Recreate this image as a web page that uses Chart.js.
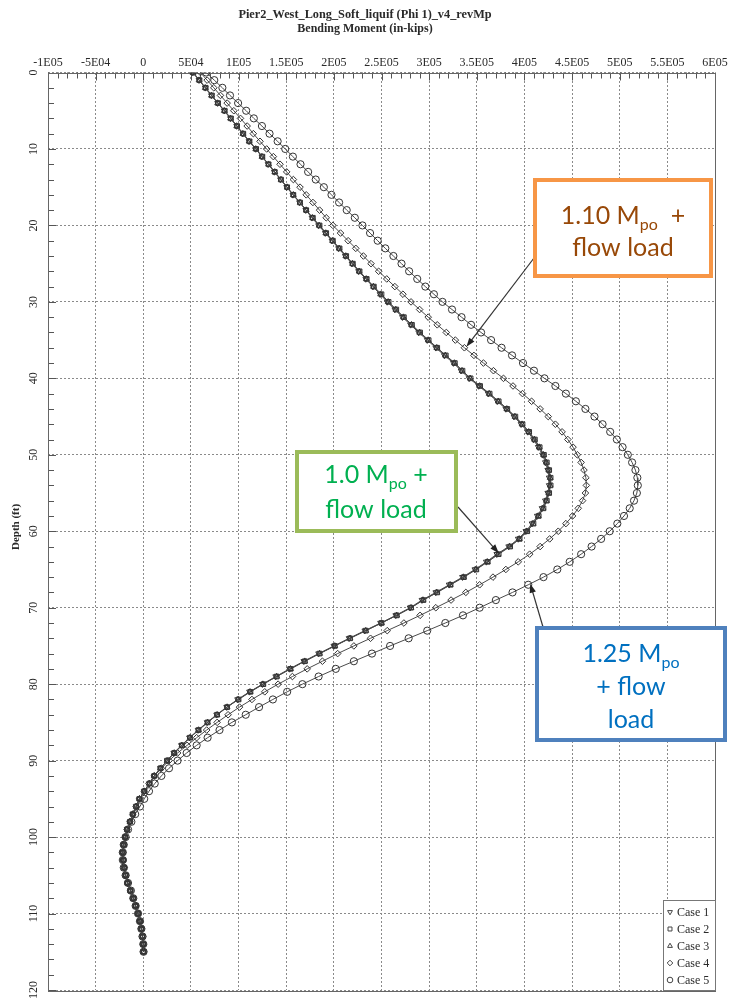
<!DOCTYPE html>
<html>
<head>
<meta charset="utf-8">
<title>Pier2 West Long Soft liquif - Bending Moment</title>
<script src="https://cdn.jsdelivr.net/npm/chart.js@4.4.1/dist/chart.umd.min.js"></script>
<style>
  html, body { margin: 0; padding: 0; background: #ffffff; }
  canvas { display: block; }
</style>
</head>
<body>
<canvas id="moment" width="730" height="1000"></canvas>
<script>
// Depth below pile head (ft), one station per foot
const depthFt = [
  0, 1, 2, 3, 4, 5, 6, 7, 8, 9,
  10, 11, 12, 13, 14, 15, 16, 17, 18, 19,
  20, 21, 22, 23, 24, 25, 26, 27, 28, 29,
  30, 31, 32, 33, 34, 35, 36, 37, 38, 39,
  40, 41, 42, 43, 44, 45, 46, 47, 48, 49,
  50, 51, 52, 53, 54, 55, 56, 57, 58, 59,
  60, 61, 62, 63, 64, 65, 66, 67, 68, 69,
  70, 71, 72, 73, 74, 75, 76, 77, 78, 79,
  80, 81, 82, 83, 84, 85, 86, 87, 88, 89,
  90, 91, 92, 93, 94, 95, 96, 97, 98, 99,
  100, 101, 102, 103, 104, 105, 106, 107, 108, 109,
  110, 111, 112, 113, 114, 115
];

// Bending moment per case, in thousands of in-kips
const case1Moment = [
  52, 58.5, 65, 71.5, 78, 85, 91.5, 98, 104.5, 111,
  118, 124.5, 131, 137.5, 144, 150.5, 157, 164, 170.5, 177,
  184, 191, 198, 205, 212, 219, 226, 233.5, 241, 248.5,
  256, 264, 272, 280.5, 289, 298, 307, 316, 325.5, 333.5,
  342, 352, 362, 371.5, 380.5, 389, 396.5, 403.5, 409.5, 414.5,
  419, 422, 424.5, 426, 426, 424.5, 422, 418.5, 413.5, 408,
  401.5, 393.5, 383.5, 371, 360, 348, 335, 321, 307, 292.5,
  280, 265, 249, 232.5, 216, 200, 184, 168.5, 153.5, 139,
  125, 111.5, 99, 87.5, 77, 67, 57.5, 48.5, 40, 32,
  25, 18, 11.5, 6.5, 1, -4, -7.5, -11, -14, -17,
  -19, -20.5, -21.5, -21, -20, -18.5, -16.5, -13.5, -10.5, -8,
  -5.5, -3.5, -2, -0.8, 0, 0.3
];
const case2Moment = [
  52.5, 59, 65.5, 72, 78.5, 85.5, 92, 98.5, 105, 111.5,
  118.5, 125, 131.5, 138, 144.5, 151, 157.5, 164.5, 171, 178,
  185, 192, 199, 206, 213, 220, 227, 234.5, 242, 250,
  257.5, 265.5, 273.5, 282, 290.5, 299.5, 308.5, 317.5, 327, 335,
  343.5, 353.5, 363.5, 373, 382, 390.5, 398, 405, 411, 416,
  420.5, 423.5, 426, 427.5, 427.5, 426, 423.5, 420, 415, 409.5,
  403, 395, 385, 373, 361.5, 349.5, 336.5, 322.5, 308.5, 294,
  281, 266, 250, 233.5, 217, 201, 185, 169.5, 154.5, 140,
  126, 112.5, 100, 88, 77.5, 67.5, 58, 49, 40.5, 32.5,
  25, 18, 11.5, 6.5, 1, -4, -7.5, -11, -14, -17,
  -19, -20.5, -21.5, -21, -20, -18.5, -16.5, -13.5, -10.5, -8,
  -5.5, -3.5, -2, -0.8, 0, 0.3
];
const case3Moment = [
  52, 58.5, 65, 71.5, 78, 85, 91.5, 98, 104.5, 111,
  118, 124.5, 131.5, 138, 144.5, 151, 157.5, 164.5, 171, 177.5,
  184.5, 191.5, 198.5, 205.5, 212.5, 219.5, 226.5, 234, 241.5, 249,
  257, 265, 273, 281.5, 290, 299, 308, 317, 326.5, 334.5,
  343, 353, 363, 372.5, 381.5, 390, 397.5, 404.5, 410.5, 415.5,
  420, 423, 425.5, 427, 427, 425.5, 423, 419.5, 414.5, 409,
  402.5, 394.5, 384.5, 372, 361, 349, 336, 322, 308, 293.5,
  281, 266, 250, 233.5, 217, 201, 185, 169.5, 154.5, 140,
  125.5, 112, 99.5, 88, 77.5, 67.5, 58, 49, 40.5, 32.5,
  25, 18, 11.5, 6.5, 1, -4, -7.5, -11, -14, -17,
  -19, -20.5, -21.5, -21, -20, -18.5, -16.5, -13.5, -10.5, -8,
  -5.5, -3.5, -2, -0.8, 0, 0.3
];
const case4Moment = [
  60, 67, 74, 81, 88, 95, 102, 109, 115.5, 122.5,
  129.5, 136.5, 143.5, 150.5, 157.5, 164.5, 171, 178, 185, 192,
  199, 207, 215, 223, 231, 239, 247, 255.5, 264, 272.5,
  281, 290, 299, 308.5, 318, 327.5, 337, 347, 357, 367.5,
  378, 388, 398, 407.5, 416.5, 425, 432.5, 439.5, 445.5, 451,
  455.5, 459.5, 462.5, 464.5, 465, 464, 461, 456.5, 450.5, 443.5,
  435.5, 426.5, 416.5, 405.5, 393.5, 380.5, 367, 353, 338.5, 323,
  307, 290.5, 273.5, 256, 238.5, 221, 204, 188, 172, 156.5,
  141.5, 127.5, 114, 101, 89, 77.5, 66.5, 56, 46, 36,
  27, 19, 11.5, 6, 1, -4, -7.5, -11, -14, -17,
  -19, -20.5, -21.5, -21, -20, -18.5, -16.5, -13.5, -10.5, -8,
  -5.5, -3.5, -2, -0.8, 0, 0.3
];
const case5Moment = [
  66, 74.5, 83, 91, 99.5, 108, 116, 124.5, 132.5, 141,
  149, 157, 165, 173, 181, 189.5, 197.5, 205.5, 213.5, 222,
  230, 238, 246, 254, 262.5, 271, 279, 287.5, 296, 305,
  314, 324, 334, 344, 354.5, 365, 376, 387, 398.5, 410,
  421, 432.5, 443.5, 454, 464, 473.5, 482, 490, 497, 503,
  508.5, 513, 516.5, 518.5, 519, 518, 515, 510.5, 504.5, 497.5,
  489.5, 480.5, 470.5, 459.5, 447.5, 434.5, 420, 404, 387.5, 370,
  353, 335.5, 317, 298, 278.5, 259, 240, 221, 202, 184,
  167, 151, 136, 121.5, 107.5, 93, 80, 67.5, 56, 45.5,
  36, 27, 19, 12, 6, 1, -3.5, -8.5, -12.5, -16,
  -18.5, -20.5, -21.5, -21.5, -20.5, -18.5, -16, -13, -10.5, -8,
  -5.5, -3.5, -2, -0.8, 0, 0.3
];

const caseLabels = ['Case 1', 'Case 2', 'Case 3', 'Case 4', 'Case 5'];
const caseMoments = [case1Moment, case2Moment, case3Moment, case4Moment, case5Moment];
const caseMarkers = [
  { style: 'triangle', rotation: 180 },
  { style: 'rect', rotation: 0 },
  { style: 'triangle', rotation: 0 },
  { style: 'rectRot', rotation: 0 },
  { style: 'circle', rotation: 0 }
];

// Axis tick values and their printed labels
const momentTickValues = [-100000, -50000, 0, 50000, 100000, 150000, 200000, 250000, 300000, 350000, 400000, 450000, 500000, 550000, 600000];
const momentTickLabels = ['-1E05', '-5E04', '0', '5E04', '1E05', '1.5E05', '2E05', '2.5E05', '3E05', '3.5E05', '4E05', '4.5E05', '5E05', '5.5E05', '6E05'];
const depthTickValues = [0, 10, 20, 30, 40, 50, 60, 70, 80, 90, 100, 110, 120];
const depthTickLabels = ['0', '10', '20', '30', '40', '50', '60', '70', '80', '90', '100', '110', '120'];

const titleLines = ['Pier2_West_Long_Soft_liquif (Phi 1)_v4_revMp', 'Bending Moment (in-kips)'];
const depthAxisTitle = 'Depth (ft)';

// Call-out boxes: which case and depth each arrow points at
const callouts = [
  { lines: [[['1.10 M', 0], ['po', 1], ['  +', 0]], [['flow load', 0]]],
    border: '#f79646', text: '#984807', box: [535, 180, 176, 96], centerX: 623, baselines: [224, 256],
    from: [534, 258], caseIndex: 3, depth: 36 },
  { lines: [[['1.0 M', 0], ['po', 1], [' +', 0]], [['flow load', 0]]],
    border: '#9bbb59', text: '#00b050', box: [297, 452, 159, 79], centerX: 376, baselines: [483, 518],
    from: [458, 507], caseIndex: 0, depth: 63 },
  { lines: [[['1.25 M', 0], ['po', 1]], [['+ flow', 0]], [['load', 0]]],
    border: '#4f81bd', text: '#0070c0', box: [537, 628, 188, 112], centerX: 631, baselines: [662, 695, 728],
    from: [543, 627], caseIndex: 4, depth: 67 }
];

const SERIF = '"Liberation Serif", "DejaVu Serif", serif';
const SANS = 'Lato, "Open Sans", sans-serif';
const INK = '#2a2a2a';

function pointsFor(values) {
  return depthFt.map((d, i) => ({ x: values[i] * 1000, y: d }));
}

const datasets = caseLabels.map((label, k) => ({
  label,
  data: pointsFor(caseMoments[k]),
  showLine: true,
  borderColor: '#4a4a4a',
  borderWidth: 1,
  pointStyle: caseMarkers[k].style,
  rotation: caseMarkers[k].rotation,
  pointRadius: k === 4 ? 3.6 : 3.3,
  pointBorderWidth: 1,
  pointBorderColor: '#333333',
  pointBackgroundColor: 'rgba(255,255,255,0)',
  tension: 0
}));

function drawArrow(ctx, x0, y0, x1, y1) {
  const ang = Math.atan2(y1 - y0, x1 - x0);
  const len = 9, half = 3.2;
  ctx.save();
  ctx.strokeStyle = '#333';
  ctx.fillStyle = '#222';
  ctx.lineWidth = 1.2;
  ctx.beginPath();
  ctx.moveTo(x0, y0);
  ctx.lineTo(x1 - Math.cos(ang) * len * 0.8, y1 - Math.sin(ang) * len * 0.8);
  ctx.stroke();
  ctx.beginPath();
  ctx.moveTo(x1, y1);
  ctx.lineTo(x1 - Math.cos(ang) * len + Math.sin(ang) * half, y1 - Math.sin(ang) * len - Math.cos(ang) * half);
  ctx.lineTo(x1 - Math.cos(ang) * len - Math.sin(ang) * half, y1 - Math.sin(ang) * len + Math.cos(ang) * half);
  ctx.closePath();
  ctx.fill();
  ctx.restore();
}

function drawRichLine(ctx, parts, cx, baseline, color) {
  const mainFont = '25px ' + SANS;
  const subFont = '16px ' + SANS;
  let total = 0;
  parts.forEach(([t, sub]) => { ctx.font = sub ? subFont : mainFont; total += ctx.measureText(t).width; });
  let x = cx - total / 2;
  ctx.fillStyle = color;
  ctx.textAlign = 'left';
  ctx.textBaseline = 'alphabetic';
  parts.forEach(([t, sub]) => {
    ctx.font = sub ? subFont : mainFont;
    ctx.fillText(t, x, baseline + (sub ? 6 : 0));
    x += ctx.measureText(t).width;
  });
}

const chartDecor = {
  id: 'chartDecor',
  beforeDraw(chart) {
    const ctx = chart.ctx;
    ctx.save();
    ctx.fillStyle = '#ffffff';
    ctx.fillRect(0, 0, chart.width, chart.height);
    // Two-line title, centred on the page
    const cx = chart.width / 2;
    ctx.fillStyle = INK;
    ctx.textAlign = 'center';
    ctx.textBaseline = 'middle';
    ctx.font = 'bold 12.3px ' + SERIF;
    ctx.fillText(titleLines[0], cx, 15);
    ctx.font = 'bold 12px ' + SERIF;
    ctx.fillText(titleLines[1], cx, 28.5);
    ctx.restore();
  },
  beforeDatasetsDraw(chart) {
    const ctx = chart.ctx;
    const area = chart.chartArea;
    const xs = chart.scales.x, ys = chart.scales.y;
    ctx.save();
    ctx.strokeStyle = '#555';
    ctx.lineWidth = 1;
    // Minor and major tick marks along the top edge, every 1E04
    ctx.beginPath();
    for (let k = -10; k <= 60; k++) {
      const px = Math.round(xs.getPixelForValue(k * 10000)) + 0.5;
      const len = (k % 5 === 0) ? 8 : 6;
      ctx.moveTo(px, area.top);
      ctx.lineTo(px, area.top + len);
    }
    // Tick marks along the left edge, every 2 ft
    for (let d = 0; d <= 120; d += 2) {
      const py = Math.round(ys.getPixelForValue(d)) + 0.5;
      const len = (d % 10 === 0) ? 8 : 6;
      ctx.moveTo(area.left, py);
      ctx.lineTo(area.left + len, py);
    }
    ctx.stroke();
    // Plot frame
    ctx.strokeStyle = '#666';
    ctx.strokeRect(Math.round(area.left) + 0.5, Math.round(area.top) + 0.5,
      Math.round(area.right - area.left), Math.round(area.bottom - area.top));
    // Depth tick labels, rotated
    ctx.fillStyle = INK;
    ctx.font = '12px ' + SERIF;
    ctx.textAlign = 'center';
    ctx.textBaseline = 'middle';
    depthTickValues.forEach((d, i) => {
      const py = ys.getPixelForValue(d);
      ctx.save();
      ctx.translate(34, py);
      ctx.rotate(-Math.PI / 2);
      ctx.fillText(depthTickLabels[i], 0, 0);
      ctx.restore();
    });
    // Depth axis title
    ctx.save();
    ctx.font = 'bold 11px ' + SERIF;
    ctx.translate(16, 527);
    ctx.rotate(-Math.PI / 2);
    ctx.fillText(depthAxisTitle, 0, 0);
    ctx.restore();
    ctx.restore();
  },
  afterDraw(chart) {
    const ctx = chart.ctx;
    const area = chart.chartArea;
    const xs = chart.scales.x, ys = chart.scales.y;
    // Legend box in the lower-right corner of the plot
    ctx.save();
    const lx = 663, ly = 900, lw = Math.round(area.right) - lx, lh = Math.round(area.bottom) - ly;
    ctx.fillStyle = '#ffffff';
    ctx.fillRect(lx, ly, lw, lh);
    ctx.strokeStyle = '#777';
    ctx.lineWidth = 1;
    ctx.strokeRect(lx + 0.5, ly + 0.5, lw, lh);
    ctx.font = '12px ' + SERIF;
    ctx.textAlign = 'left';
    ctx.textBaseline = 'middle';
    caseLabels.forEach((label, k) => {
      const y = 912 + k * 17;
      ctx.strokeStyle = '#444';
      ctx.fillStyle = 'rgba(255,255,255,0)';
      ctx.lineWidth = 1;
      Chart.helpers.drawPoint(ctx, {
        pointStyle: caseMarkers[k].style, rotation: caseMarkers[k].rotation,
        radius: 2.8, borderWidth: 1
      }, 670, y);
      ctx.fillStyle = INK;
      ctx.fillText(label, 677, y + 0.5);
    });
    ctx.restore();

    // Call-out boxes with arrows to their curves
    callouts.forEach(c => {
      const vals = caseMoments[c.caseIndex];
      const idx = depthFt.indexOf(c.depth);
      const tx = xs.getPixelForValue(vals[idx] * 1000);
      const ty = ys.getPixelForValue(depthFt[idx]);
      drawArrow(ctx, c.from[0], c.from[1], tx + 2, ty - 1);
      ctx.save();
      const [bx, by, bw, bh] = c.box;
      ctx.fillStyle = '#ffffff';
      ctx.fillRect(bx, by, bw, bh);
      ctx.strokeStyle = c.border;
      ctx.lineWidth = 4;
      ctx.strokeRect(bx, by, bw, bh);
      c.lines.forEach((parts, i) => drawRichLine(ctx, parts, c.centerX, c.baselines[i], c.text));
      ctx.restore();
    });
  }
};

new Chart(document.getElementById('moment'), {
  type: 'scatter',
  data: { datasets },
  options: {
    responsive: false,
    devicePixelRatio: 1,
    animation: false,
    layout: { padding: { top: 0, left: 0, right: 15, bottom: 10 } },
    plugins: {
      legend: { display: false },
      title: { display: false },
      tooltip: { enabled: false }
    },
    scales: {
      x: {
        type: 'linear',
        position: 'top',
        min: -100000,
        max: 600000,
        ticks: {
          stepSize: 50000,
          autoSkip: false,
          maxRotation: 0,
          padding: 2,
          color: INK,
          font: { family: SERIF, size: 12 },
          callback: (v) => {
            const i = momentTickValues.indexOf(v);
            return i >= 0 ? momentTickLabels[i] : '';
          }
        },
        grid: { color: '#8a8a8a', lineWidth: 1, drawTicks: false },
        border: { display: false, dash: [2, 2] },
        afterFit(scale) { scale.height = 72.5; }
      },
      y: {
        type: 'linear',
        reverse: true,
        min: 0,
        max: 120,
        ticks: { stepSize: 10, display: false },
        grid: { color: '#8a8a8a', lineWidth: 1, drawTicks: false },
        border: { display: false, dash: [2, 2] },
        afterFit(scale) { scale.width = 48; }
      }
    }
  },
  plugins: [chartDecor]
});
</script>
</body>
</html>
